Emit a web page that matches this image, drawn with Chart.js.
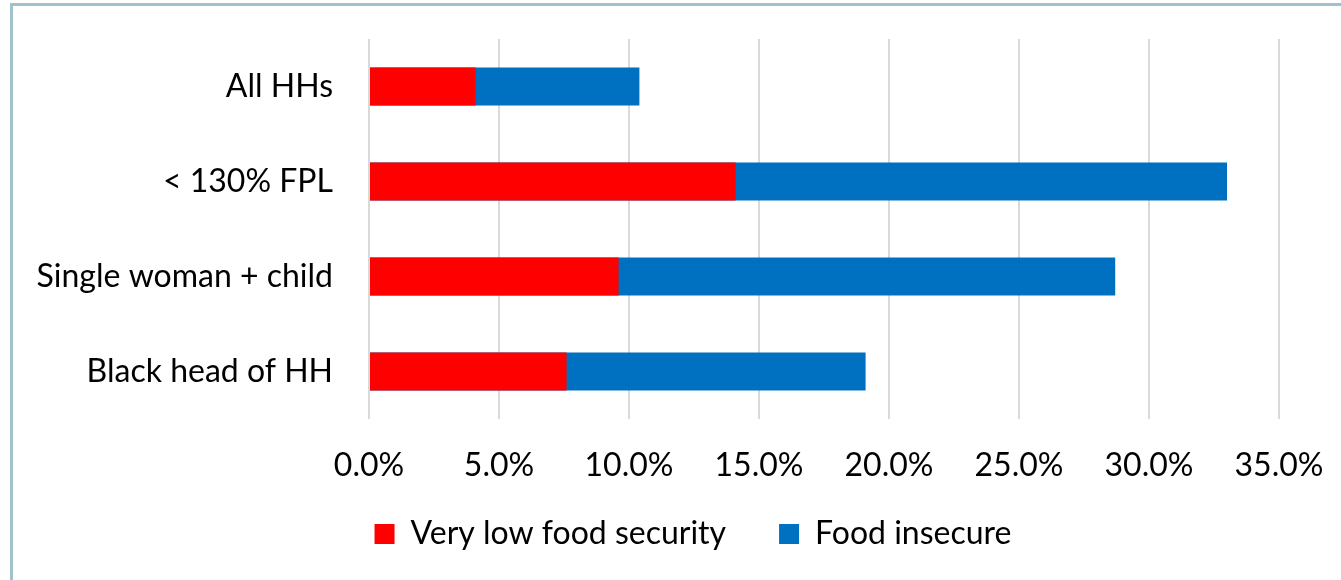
<!DOCTYPE html>
<html>
<head>
<meta charset="utf-8">
<script src="https://cdn.jsdelivr.net/npm/chart.js@4"></script>
<style>
  body { margin: 0; background: #fff; overflow: hidden; }
  #frame {
    position: absolute; left: 10px; top: 3px;
    width: 1328px; height: 574px;
    border-left: 3px solid #9ec3cc;
    border-top: 3px solid #9ec3cc;
    background: #fff;
  }
</style>
</head>
<body>
<div id="frame"><canvas id="barChart-food"></canvas></div>
<script>
// data (percent of households)
const groups = ["All HHs", "< 130% FPL", "Single woman + child", "Black head of HH"];
const veryLowFoodSecurity = [4.1, 14.1, 9.6, 7.6];
const foodInsecure = [10.4, 33.0, 28.7, 19.1];
const axisTicks = [0, 5, 10, 15, 20, 25, 30, 35];

Chart.defaults.font.family = "Lato, 'Open Sans', sans-serif";
Chart.defaults.color = '#000';

// nudge the legend box so it sits where the original one is (centred under the whole frame)
const legendNudge = {
    id: 'legendNudge',
    afterLayout(chart) {
        const lg = chart.legend;
        lg.left += 47; lg.right += 47;
        lg.top -= 20; lg.bottom -= 20;
    }
};

let barCtx_food = document.getElementById("barChart-food");
let barConfig_food = {
    type: 'bar',
    data: {
    labels: groups,
    datasets: [{
        label: 'Very low food security',
        data: veryLowFoodSecurity,
        backgroundColor: '#ff0000',
        stack: 'hh',
    }, {
        // same stack on the category axis, value axis not stacked -> drawn underneath, from zero
        label: 'Food insecure',
        data: foodInsecure,
        backgroundColor: '#0070c0',
        stack: 'hh',
    }]
    },
    options: {
        indexAxis: 'y',
        maintainAspectRatio: false,
        animation: false,
        categoryPercentage: 0.4,
        barPercentage: 1.0,
        layout: { padding: { left: 0, right: 62, top: 33, bottom: 0 } },
        plugins: {
            tooltip: { enabled: false },
            legend: {
                position: 'bottom',
                maxHeight: 95,
                labels: {
                    boxWidth: 20,
                    boxHeight: 20,
                    padding: 53,
                    font: { size: 32 },
                    color: '#000'
                }
            }
        },
        scales: {
            x: {
                stacked: false,
                min: 0,
                max: 35,
                afterBuildTicks: (scale) => { scale.ticks = axisTicks.map(v => ({ value: v })); },
                afterFit: (scale) => { scale.height = 66; },
                // invisible tick marks give the gap under the plot (ticks.padding would also pad the sides)
                grid: { color: '#d9d9d9', lineWidth: 2, drawTicks: true, tickLength: 27, tickColor: 'rgba(0,0,0,0)' },
                border: { display: false },
                ticks: {
                    padding: 0,
                    font: { size: 32 },
                    color: '#000',
                    callback: (v) => v.toFixed(1) + '%'
                }
            },
            y: {
                stacked: true,
                afterFit: (scale) => { scale.width = 356; },
                grid: { display: false, drawTicks: true, tickLength: 36 },
                border: { display: false },
                ticks: {
                    padding: 0,
                    font: { size: 32 },
                    color: '#000'
                }
            }
        }
    },
    plugins: [legendNudge]
};
let barChart_food = new Chart(barCtx_food, barConfig_food);
</script>
</body>
</html>
